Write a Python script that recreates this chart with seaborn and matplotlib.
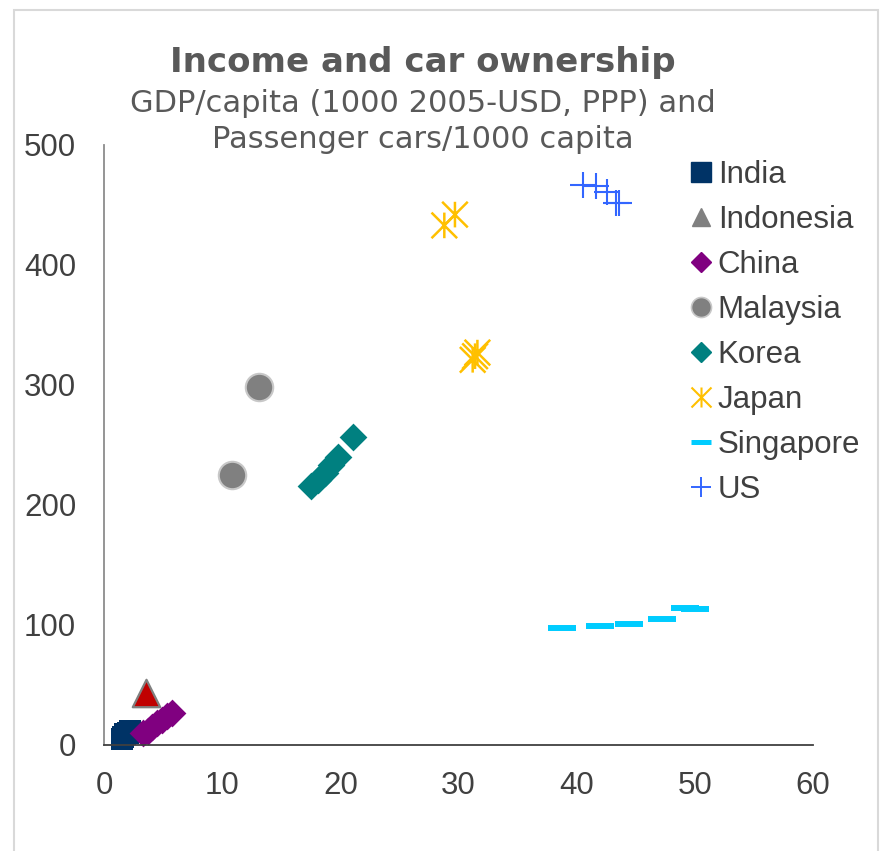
import matplotlib
matplotlib.use("Agg")
import matplotlib.pyplot as plt
from matplotlib.path import Path
from matplotlib.lines import Line2D
from matplotlib.patches import Rectangle
import seaborn as sns

# GDP/capita (1000 2005-USD, PPP) vs passenger cars per 1000 capita
india_gdp = [1.5, 1.6, 1.8, 2.0, 2.2]
india_cars = [5, 7, 9, 10, 12]
indonesia_gdp = [3.55]
indonesia_cars = [43]
china_gdp = [3.3, 3.7, 4.1, 4.5, 4.9, 5.3, 5.75]
china_cars = [10, 12, 15, 18, 21, 24, 27]
malaysia_gdp = [10.8, 13.1]
malaysia_cars = [225, 298]
korea_gdp = [17.5, 18.1, 18.7, 19.2, 19.8, 21.1]
korea_cars = [216, 221, 227, 233, 240, 257]
japan_gdp = [28.8, 29.7, 31.2, 31.6, 31.4]
japan_cars = [433, 442, 321, 327, 324]
singapore_gdp = [38.8, 42.0, 44.4, 47.2, 49.2, 50.0]
singapore_cars = [97.5, 99, 101, 105, 114, 113]
us_gdp = [40.5, 41.6, 42.6, 43.3, 43.6]
us_cars = [467, 466, 461, 452, 452]

countries = ["India", "Indonesia", "China", "Malaysia", "Korea", "Japan", "Singapore", "US"]
x_ticks = [0, 10, 20, 30, 40, 50, 60]
y_ticks = [0, 100, 200, 300, 400, 500]

sns.set_theme(style="white")
plt.rcParams["font.family"] = ["Liberation Sans", "DejaVu Sans"]

# Excel-like asterisk: vertical bar plus an X
star = Path([(0, -1), (0, 1), (-1, -1), (1, 1), (-1, 1), (1, -1)],
            [Path.MOVETO, Path.LINETO, Path.MOVETO, Path.LINETO, Path.MOVETO, Path.LINETO])

fig = plt.figure(figsize=(8.81, 8.51), dpi=100)
ax = fig.add_axes([104 / 881, 1 - 745 / 851, (813 - 104) / 881, 600 / 851])

sns.scatterplot(x=india_gdp, y=india_cars, marker="s", s=270, color="#003366",
                edgecolor="#003366", linewidth=0, clip_on=False, ax=ax)
sns.scatterplot(x=indonesia_gdp, y=indonesia_cars, marker="^", s=390, color="#c00000",
                edgecolor="#808080", linewidth=1.6, clip_on=False, ax=ax)
sns.scatterplot(x=china_gdp, y=china_cars, marker="D", s=200, color="#800080",
                edgecolor="#800080", linewidth=0, clip_on=False, ax=ax)
sns.scatterplot(x=malaysia_gdp, y=malaysia_cars, marker="o", s=390, color="#808080",
                edgecolor="#c8c8c8", linewidth=1.5, clip_on=False, ax=ax)
sns.scatterplot(x=korea_gdp, y=korea_cars, marker="D", s=200, color="#008080",
                edgecolor="#008080", linewidth=0, clip_on=False, ax=ax)
sns.scatterplot(x=japan_gdp, y=japan_cars, marker=star, s=340, color="#ffc000",
                facecolor="none", edgecolor="#ffc000", linewidth=1.8, clip_on=False, ax=ax)
sns.scatterplot(x=singapore_gdp, y=singapore_cars, marker="_", s=400, color="#00ccff",
                linewidth=4.3, clip_on=False, ax=ax)
sns.scatterplot(x=us_gdp, y=us_cars, marker="+", s=350, color="#3366ff",
                linewidth=1.5, clip_on=False, ax=ax)

ax.set_xlim(0, 60)
ax.set_ylim(0, 500)
ax.set_xticks(x_ticks)
ax.set_yticks(y_ticks)
ax.tick_params(length=0, labelsize=22.5, labelcolor="#404040")
ax.tick_params(axis="y", pad=20)
ax.tick_params(axis="x", pad=19)
for side in ["top", "right"]:
    ax.spines[side].set_visible(False)
ax.spines["left"].set_color("#8c8c8c")
ax.spines["left"].set_linewidth(1.3)
ax.spines["bottom"].set_color("#404040")
ax.spines["bottom"].set_linewidth(1.3)

# legend (Indonesia shows gray in the key)
handles = [
    Line2D([], [], ls="none", marker="s", ms=14.4, color="#003366"),
    Line2D([], [], ls="none", marker="^", ms=13, color="#808080"),
    Line2D([], [], ls="none", marker="D", ms=10.2, color="#800080"),
    Line2D([], [], ls="none", marker="o", ms=14.4, color="#808080", mec="#c8c8c8", mew=1.2),
    Line2D([], [], ls="none", marker="D", ms=10.2, color="#008080"),
    Line2D([], [], ls="none", marker=star, ms=14.4, color="#ffc000", mew=1.5),
    Line2D([], [], ls="none", marker="_", ms=14.4, color="#00ccff", mew=3.6),
    Line2D([], [], ls="none", marker="+", ms=14.4, color="#3366ff", mew=1.4),
]
fig.legend(handles, countries, loc="upper left", bbox_to_anchor=(688 / 881, 1 - 160 / 851),
           frameon=False, fontsize=22.5, labelcolor="#404040", handlelength=0.8,
           handletextpad=0.15, labelspacing=0.48, borderpad=0, borderaxespad=0,
           numpoints=1)

fig.text(0.4796, 1 - 72 / 851, "Income and car ownership", ha="center", va="baseline",
         fontsize=24.5, fontweight="bold", color="#595959", family="DejaVu Sans")
fig.text(0.4796, 1 - 112 / 851, "GDP/capita (1000 2005-USD, PPP) and", ha="center",
         va="baseline", fontsize=22, color="#595959", family="DejaVu Sans")
fig.text(0.4796, 1 - 148 / 851, "Passenger cars/1000 capita", ha="center",
         va="baseline", fontsize=22, color="#595959", family="DejaVu Sans")

fig.patches.append(Rectangle((14 / 881, -0.05), (878 - 14) / 881, 1.05 - 10 / 851,
                             transform=fig.transFigure, fill=False,
                             edgecolor="#d9d9d9", linewidth=1.5))

fig.savefig("out.png", dpi=100)
